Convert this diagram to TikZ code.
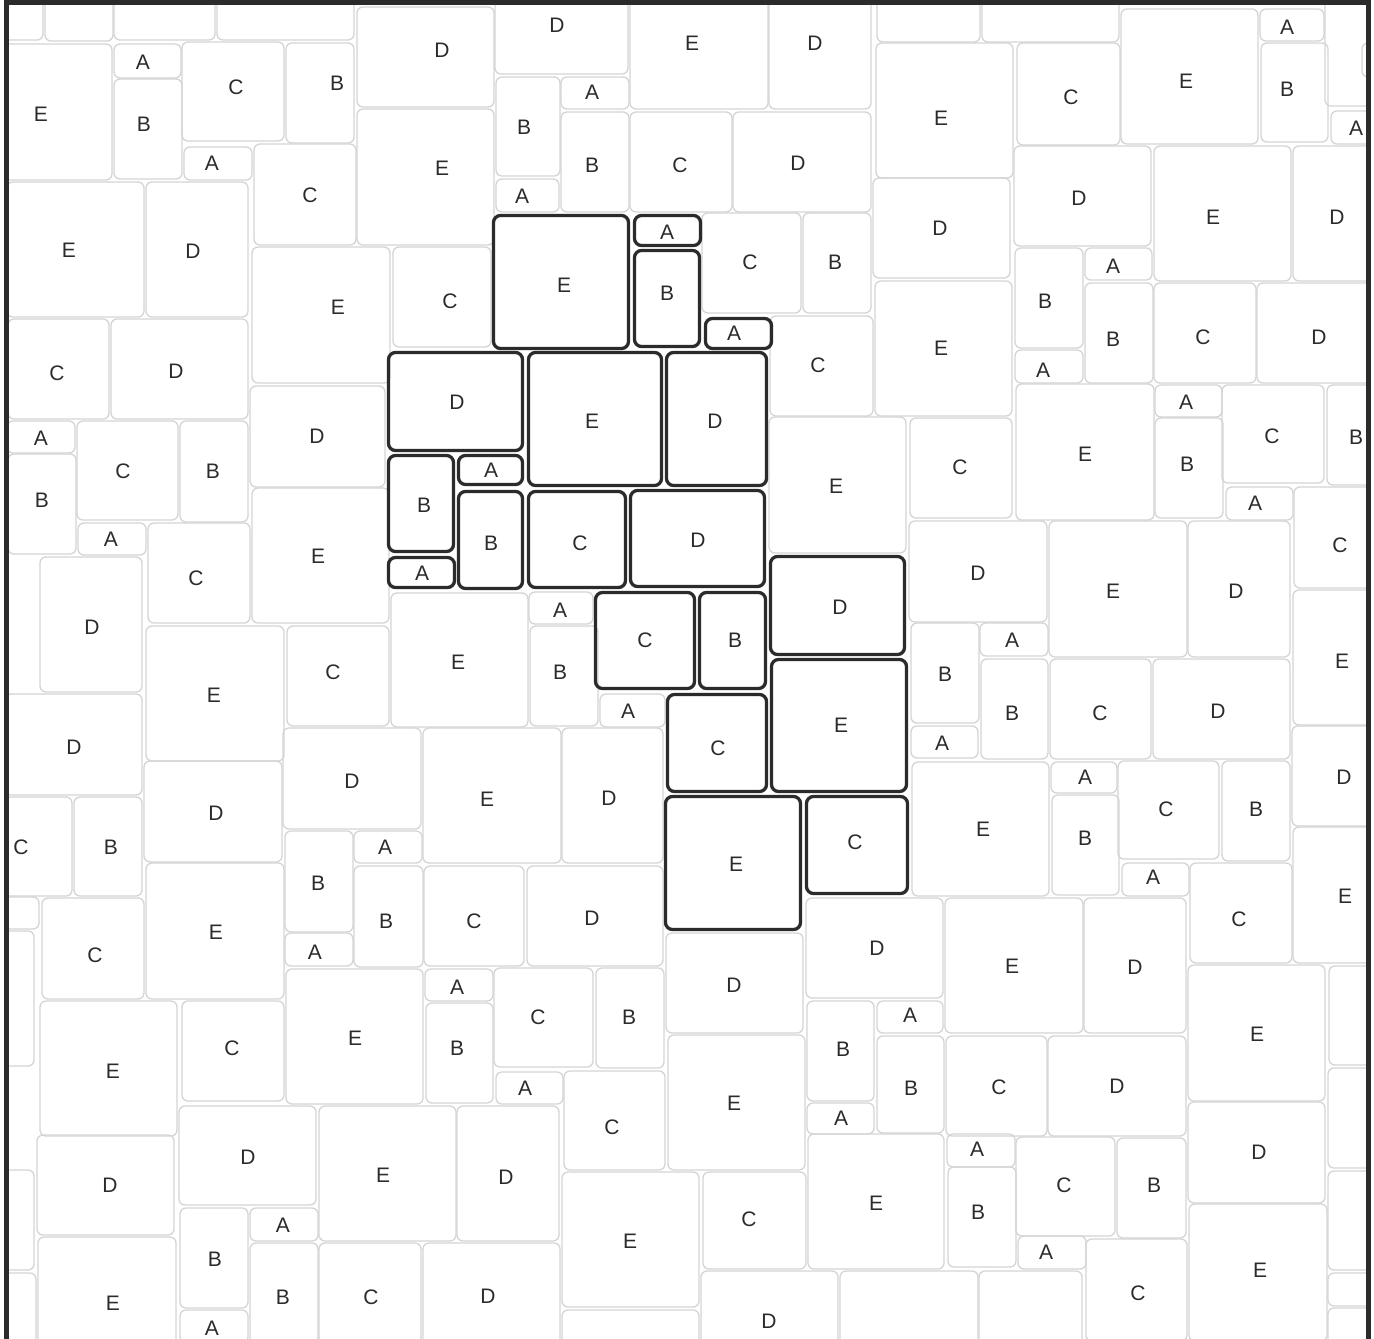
\documentclass[tikz,border=0pt]{standalone}
\usepackage{fontspec}
\setmainfont{Liberation Sans}
\definecolor{tileline}{HTML}{D4D4D4}
\definecolor{ink}{HTML}{2B2B2B}
\tikzset{
  tile/.style={draw=tileline, line width=1.3pt, rounded corners=6pt},
  picked/.style={draw=ink, line width=3.3pt, rounded corners=7pt},
  lab/.style={text=ink, font=\fontsize{21}{21}\selectfont, inner sep=0pt},
  frame/.style={draw=ink, line width=5pt},
}
\begin{document}
\begin{tikzpicture}[x=1pt,y=-1pt]
  \useasboundingbox (0,0) rectangle (1374,1339);
  \begin{scope}
    \clip (9,5) rectangle (1366,1339);
    % tiles cut by the frame, no letter in view
    \foreach \xa/\ya/\xb/\yb in {-100/-100/43/40, 45/-60/113/41, 114/-60/215/40,
        217/-60/354/40, 877/-60/980/42, 982/-60/1119/42, 1325/-30/1427/106,
        1362/43/1430/77, -29/897/39/929, -68/931/34/1066, -66/1273/36/1400,
        562/1310/699/1446, 840/1271/978/1410, 979/1271/1082/1372,
        1329/966/1430/1065, 1328/1068/1429/1168, 1328/1171/1430/1270,
        1328/1273/1396/1306, 1328/1308/1430/1400}
      \draw[tile] (\xa,\ya) rectangle (\xb,\yb);
    % grey tiles
    \foreach \xa/\ya/\xb/\yb/\t/\lx/\ly [count=\i] in {
        -26/44/112/180/E/41/114, 114/44/181/78/A/143/62, 114/79/182/179/B/144/124,
        182/42/284/141/C/236/87, 286/43/354/143/B/337/83, 357/7/494/107/D/442/50,
        357/109/494/245/E/442/168, 184/147/252/180/A/212/163, 254/144/356/245/C/310/195,
        7/182/144/317/E/69/250, 146/182/248/317/D/193/251, 252/247/390/383/E/338/307,
        393/247/491/347/C/450/301, 8/319/109/419/C/57/373, 111/319/248/419/D/176/371,
        250/386/385/487/D/317/436, 7/421/75/453/A/41/438, 77/421/178/520/C/123/471,
        180/421/248/522/B/213/471, 8/454/76/554/B/42/500, 78/523/146/555/A/111/539,
        148/523/250/623/C/196/578, 252/488/389/623/E/318/556, 40/557/142/692/D/92/627,
        146/626/284/761/E/214/695, 287/626/389/726/C/333/672, 391/593/528/727/E/458/662,
        5/694/142/795/D/74/747, 144/761/282/862/D/216/813, 283/728/421/829/D/352/781,
        423/728/561/863/E/487/799, -29/797/72/896/C/21/847, 74/797/142/896/B/111/847,
        146/863/284/999/E/216/932, 285/831/353/932/B/318/883, 354/831/422/863/A/385/847,
        354/866/423/967/B/386/921, 424/866/524/966/C/474/921, 285/933/353/966/A/315/952,
        42/898/144/999/C/95/955, 40/1001/177/1136/E/113/1071, 182/1001/284/1101/C/232/1048,
        286/969/423/1104/E/355/1038, 425/969/493/1001/A/457/987, 426/1003/493/1103/B/457/1048,
        -34/1170/34/1270/B/2/1222, 37/1135/174/1235/D/110/1185, 179/1106/316/1205/D/248/1157,
        319/1106/456/1241/E/383/1175, 457/1106/559/1241/D/506/1177, 180/1208/248/1308/B/215/1259,
        250/1208/318/1241/A/283/1225, 38/1237/176/1373/E/113/1303, 180/1310/248/1343/A/212/1328,
        250/1243/318/1343/B/283/1297, 319/1243/421/1343/C/371/1297, 423/1243/560/1345/D/488/1296,
        495/-28/628/74/D/557/25, 630/-28/768/109/E/692/43, 769/-27/871/109/D/815/43,
        496/77/560/176/B/524/127, 561/77/629/109/A/592/92, 496/179/559/212/A/522/196,
        561/112/629/212/B/592/165, 630/112/732/212/C/680/165, 733/112/871/212/D/798/163,
        876/43/1013/178/E/941/118, 702/213/801/313/C/750/262, 803/213/871/313/B/835/262,
        770/316/873/416/C/818/365, 873/178/1010/278/D/940/228, 875/281/1012/416/E/941/348,
        769/417/906/553/E/836/486, 910/418/1012/518/C/960/467,
        1017/43/1120/145/C/1071/97, 1121/9/1258/144/E/1186/81, 1260/9/1324/41/A/1287/27,
        1261/43/1328/142/B/1287/89, 1331/111/1399/144/A/1356/128, 1014/146/1151/246/D/1079/198,
        1154/146/1291/281/E/1213/217, 1293/146/1395/281/D/1337/217, 1015/248/1083/348/B/1045/301,
        1085/248/1152/280/A/1113/266, 1015/350/1083/383/A/1043/370, 1085/283/1153/383/B/1113/339,
        1154/283/1256/383/C/1203/337, 1257/283/1394/383/D/1319/337, 1016/384/1154/520/E/1085/454,
        1155/385/1222/417/A/1186/402, 1155/418/1223/518/B/1187/464, 1222/385/1324/483/C/1272/436,
        1327/385/1395/485/B/1356/437,
        1226/487/1293/520/A/1255/503, 1294/487/1396/588/C/1340/545, 909/521/1047/622/D/978/573,
        1049/521/1187/657/E/1113/591, 1188/521/1290/657/D/1236/591, 1293/590/1430/725/E/1342/661,
        911/623/979/723/B/945/674, 980/623/1048/656/A/1012/640, 911/726/978/758/A/942/743,
        981/659/1048/759/B/1012/713, 1050/659/1151/759/C/1100/713, 1153/659/1290/759/D/1218/711,
        1292/726/1429/826/D/1344/777, 912/762/1049/896/E/983/829, 1051/762/1117/793/A/1085/777,
        1052/795/1119/895/B/1085/838, 1118/761/1219/859/C/1166/809, 1222/761/1290/861/B/1256/809,
        1122/863/1189/896/A/1153/877, 1190/863/1292/963/C/1239/919, 1293/827/1430/963/E/1345/896,
        529/592/593/624/A/560/610, 530/626/598/726/B/560/672, 600/694/665/727/A/628/711,
        562/728/663/863/D/609/798, 527/866/663/966/D/592/918,
        806/898/943/998/D/877/948, 494/968/593/1067/C/538/1017, 596/968/664/1068/B/629/1017,
        666/933/803/1033/D/734/985, 807/1001/874/1101/B/843/1049, 877/1001/943/1033/A/910/1015,
        496/1072/563/1104/A/525/1088, 564/1071/665/1170/C/612/1127, 668/1035/805/1170/E/734/1103,
        807/1103/874/1134/A/841/1118, 877/1036/944/1133/B/911/1088, 562/1172/699/1307/E/630/1241,
        703/1172/806/1269/C/749/1219, 808/1134/944/1269/E/876/1203, 701/1271/838/1372/D/769/1321,
        945/898/1083/1033/E/1012/966, 1084/898/1186/1033/D/1135/967, 946/1036/1047/1136/C/999/1087,
        1048/1036/1186/1136/D/1117/1086, 1188/965/1325/1101/E/1257/1034,
        1188/1102/1325/1203/D/1259/1152, 1189/1204/1327/1341/E/1260/1270,
        947/1134/1015/1167/A/977/1149, 948/1167/1016/1267/B/978/1212,
        1016/1137/1115/1236/C/1064/1185, 1117/1138/1186/1238/B/1154/1185,
        1018/1236/1086/1269/A/1046/1252, 1086/1239/1187/1341/C/1138/1293}
    {
      \draw[tile] (\xa,\ya) rectangle (\xb,\yb);
      \node[lab] (g\i) at (\lx,\ly) {\t};
    }
    % the picked group
    \foreach \xa/\ya/\xb/\yb/\t/\lx/\ly [count=\i] in {
        493.5/215.5/628.5/348.5/E/564/285, 634.5/215.5/700.5/245.5/A/667/232,
        634.5/250.5/699.5/346.5/B/667/293, 705.5/318.5/771.5/348.5/A/734/333,
        388.5/352.5/522.5/450.5/D/457/402, 528.5/352.5/661.5/485.5/E/592/421,
        666.5/352.5/766.5/485.5/D/715/421, 388.5/455.5/453.5/551.5/B/424/505,
        458.5/455.5/522.5/484.5/A/491/470, 458.5/491.5/522.5/588.5/B/491/543,
        528.5/491.5/625.5/587.5/C/580/543, 630.5/490.5/764.5/586.5/D/698/540,
        388.5/557.5/454.5/587.5/A/422/573, 770.5/556.5/904.5/654.5/D/840/607,
        595.5/592.5/694.5/688.5/C/645/640, 699.5/592.5/765.5/688.5/B/735/640,
        771.5/659.5/906.5/791.5/E/841/725, 667.5/694.5/766.5/791.5/C/718/748,
        665.5/796.5/800.5/929.5/E/736/864, 806.5/796.5/907.5/893.5/C/855/842}
    {
      \draw[picked] (\xa,\ya) rectangle (\xb,\yb);
      \node[lab] (p\i) at (\lx,\ly) {\t};
    }
  \end{scope}
  \draw[frame] (6.5,1345) -- (6.5,2.5) -- (1368,2.5) -- (1368,1345);
\end{tikzpicture}
\end{document}
